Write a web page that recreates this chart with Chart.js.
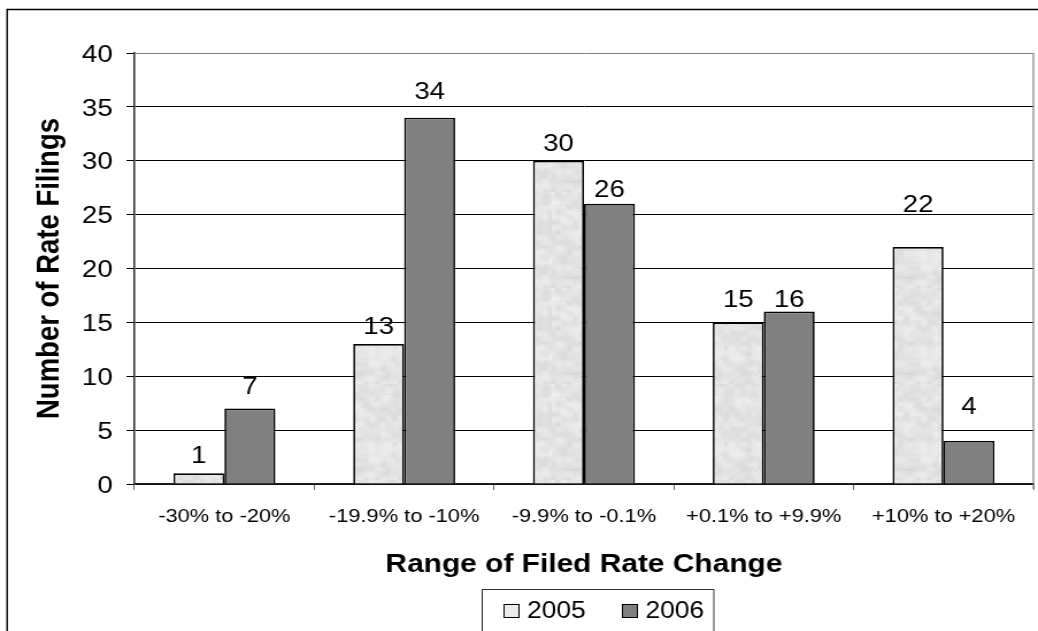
<!DOCTYPE html>
<html>
<head>
<meta charset="utf-8">
<script src="https://cdn.jsdelivr.net/npm/chart.js@4/dist/chart.umd.min.js"></script>
<style>
  html, body { margin: 0; padding: 0; background: #fff; overflow: hidden; }
  #wrap { width: 903px; height: 631px; transform: scaleX(1.1495); transform-origin: 0 0; }
  canvas { display: block; }
</style>
</head>
<body>
<div id="wrap"><canvas id="chart" width="903" height="631"></canvas></div>
<script>
// Filed rate changes, grouped by size of the change
const categories = ['-30% to -20%', '-19.9% to -10%', '-9.9% to -0.1%', '+0.1% to +9.9%', '+10% to +20%'];
const filings2005 = [1, 13, 30, 15, 22];
const filings2006 = [7, 34, 26, 16, 4];
const seriesNames = ['2005', '2006'];
const yMin = 0, yMax = 40, yStep = 5;

// gap in pixels between each value label and the top of its bar
const labelGap = [
  [10, 10, 10, 15, 35],
  [15, 19, 7, 5, 27]
];

const FONT = '"Liberation Sans", Arial, Helvetica, sans-serif';
Chart.defaults.font.family = FONT;
Chart.defaults.color = '#000';

// light speckled fill for the 2005 bars
function speckleFill() {
  const size = 96;
  const c = document.createElement('canvas');
  c.width = size; c.height = size;
  const g = c.getContext('2d');
  const img = g.createImageData(size, size);
  const hash = (x, y) => { const h = Math.sin(x * 12.9898 + y * 78.233) * 43758.5453; return h - Math.floor(h); };
  const coarse = (x, y) => {
    const cx = x / 5, cy = y / 5, x0 = Math.floor(cx), y0 = Math.floor(cy);
    const fx = cx - x0, fy = cy - y0, n = size / 5;
    const a = hash(x0 % n, y0 % n), b = hash((x0 + 1) % n, y0 % n);
    const d = hash(x0 % n, (y0 + 1) % n), e = hash((x0 + 1) % n, (y0 + 1) % n);
    return (a * (1 - fx) + b * fx) * (1 - fy) + (d * (1 - fx) + e * fx) * fy;
  };
  for (let y = 0; y < size; y++) {
    for (let x = 0; x < size; x++) {
      const v = 242 - coarse(x, y) * 20 - hash(x + 7, y + 3) * 8;
      const i = (y * size + x) * 4;
      img.data[i] = img.data[i + 1] = img.data[i + 2] = Math.round(v);
      img.data[i + 3] = 255;
    }
  }
  g.putImageData(img, 0, 0);
  return g.createPattern(c, 'repeat');
}
const pattern2005 = speckleFill();

// white page with the outer frame on the left and top
const framePlugin = {
  id: 'frame',
  beforeDraw(chart) {
    const ctx = chart.ctx;
    ctx.save();
    ctx.fillStyle = '#fff';
    ctx.fillRect(0, 0, chart.width, chart.height);
    ctx.strokeStyle = '#000';
    ctx.lineWidth = 1.4;
    ctx.beginPath();
    ctx.moveTo(6.2, chart.height + 2);
    ctx.lineTo(6.2, 9.5);
    ctx.lineTo(chart.width + 2, 9.5);
    ctx.stroke();
    ctx.restore();
  }
};

// grey right edge of the plot area
const plotEdgePlugin = {
  id: 'plotEdge',
  beforeDatasetsDraw(chart) {
    const { ctx, chartArea } = chart;
    ctx.save();
    ctx.strokeStyle = '#808080';
    ctx.lineWidth = 1.2;
    ctx.beginPath();
    ctx.moveTo(chartArea.right, chartArea.top);
    ctx.lineTo(chartArea.right, chartArea.bottom + 5);
    ctx.stroke();
    ctx.restore();
  }
};

// value printed above every bar
const valueLabelPlugin = {
  id: 'valueLabels',
  afterDatasetsDraw(chart) {
    const ctx = chart.ctx;
    ctx.save();
    ctx.font = '24px ' + FONT;
    ctx.fillStyle = '#000';
    ctx.textAlign = 'center';
    ctx.textBaseline = 'alphabetic';
    chart.data.datasets.forEach((ds, i) => {
      chart.getDatasetMeta(i).data.forEach((bar, j) => {
        ctx.fillText(String(ds.data[j]), bar.x, bar.y - labelGap[i][j]);
      });
    });
    ctx.restore();
  }
};

// boxed legend below the axis title
const legendBoxPlugin = {
  id: 'legendBox',
  afterDraw(chart) {
    const ctx = chart.ctx;
    const boxLeft = 419.5, boxRight = 621, boxTop = 589.5;
    ctx.save();
    ctx.strokeStyle = '#333';
    ctx.lineWidth = 1;
    ctx.strokeRect(boxLeft, boxTop, boxRight - boxLeft, 80);
    ctx.font = '23px ' + FONT;
    ctx.textBaseline = 'middle';
    ctx.textAlign = 'left';
    const itemX = [438.5, 541.5];
    chart.data.datasets.forEach((ds, i) => {
      const sx = itemX[i], sy = 604.5;
      ctx.fillStyle = ds.legendColor;
      ctx.fillRect(sx, sy, 13, 13);
      ctx.strokeStyle = '#000';
      ctx.lineWidth = 1;
      ctx.strokeRect(sx, sy, 13, 13);
      ctx.fillStyle = '#000';
      ctx.fillText(ds.label, sx + 20, 612);
    });
    ctx.restore();
  }
};

new Chart(document.getElementById('chart'), {
  type: 'bar',
  data: {
    labels: categories,
    datasets: [
      { label: seriesNames[0], data: filings2005, backgroundColor: pattern2005, legendColor: '#ececec',
        borderColor: '#000', borderWidth: 1.7 },
      { label: seriesNames[1], data: filings2006, backgroundColor: '#808080', legendColor: '#808080',
        borderColor: '#000', borderWidth: 1.7 }
    ]
  },
  options: {
    responsive: false,
    animation: false,
    events: [],
    layout: { padding: { left: 7, top: 53, right: 4, bottom: 0 } },
    datasets: { bar: { categoryPercentage: 0.567, barPercentage: 1 } },
    plugins: { legend: { display: false }, tooltip: { enabled: false } },
    scales: {
      x: {
        offset: true,
        grid: { offset: true, drawOnChartArea: false, tickLength: 6, color: '#666', lineWidth: 1 },
        border: { color: '#222', width: 1.6 },
        ticks: { font: { size: 19 }, padding: 15, color: '#000', maxRotation: 0 },
        title: { display: true, text: 'Range of Filed Rate Change', font: { size: 26, weight: 'bold' },
                 color: '#000', padding: { top: 0, bottom: 50.7 } },
        afterFit(scale) { scale.height = 631 - 484; }
      },
      y: {
        min: yMin, max: yMax,
        ticks: { stepSize: yStep, font: { size: 24 }, padding: 12, color: '#000', labelOffset: 2 },
        grid: { tickLength: 7, lineWidth: 1, tickColor: '#000',
                color: (c) => (c.tick && c.tick.value === yMax ? '#808080' : '#000') },
        border: { color: '#333', width: 1.6 },
        title: { display: true, text: 'Number of Rate Filings', font: { size: 27.5, weight: 'bold' },
                 color: '#000', padding: { top: 20, bottom: 0 } },
        afterFit(scale) { scale.width = 117 - 7; }
      }
    }
  },
  plugins: [framePlugin, plotEdgePlugin, valueLabelPlugin, legendBoxPlugin]
});
</script>
</body>
</html>
